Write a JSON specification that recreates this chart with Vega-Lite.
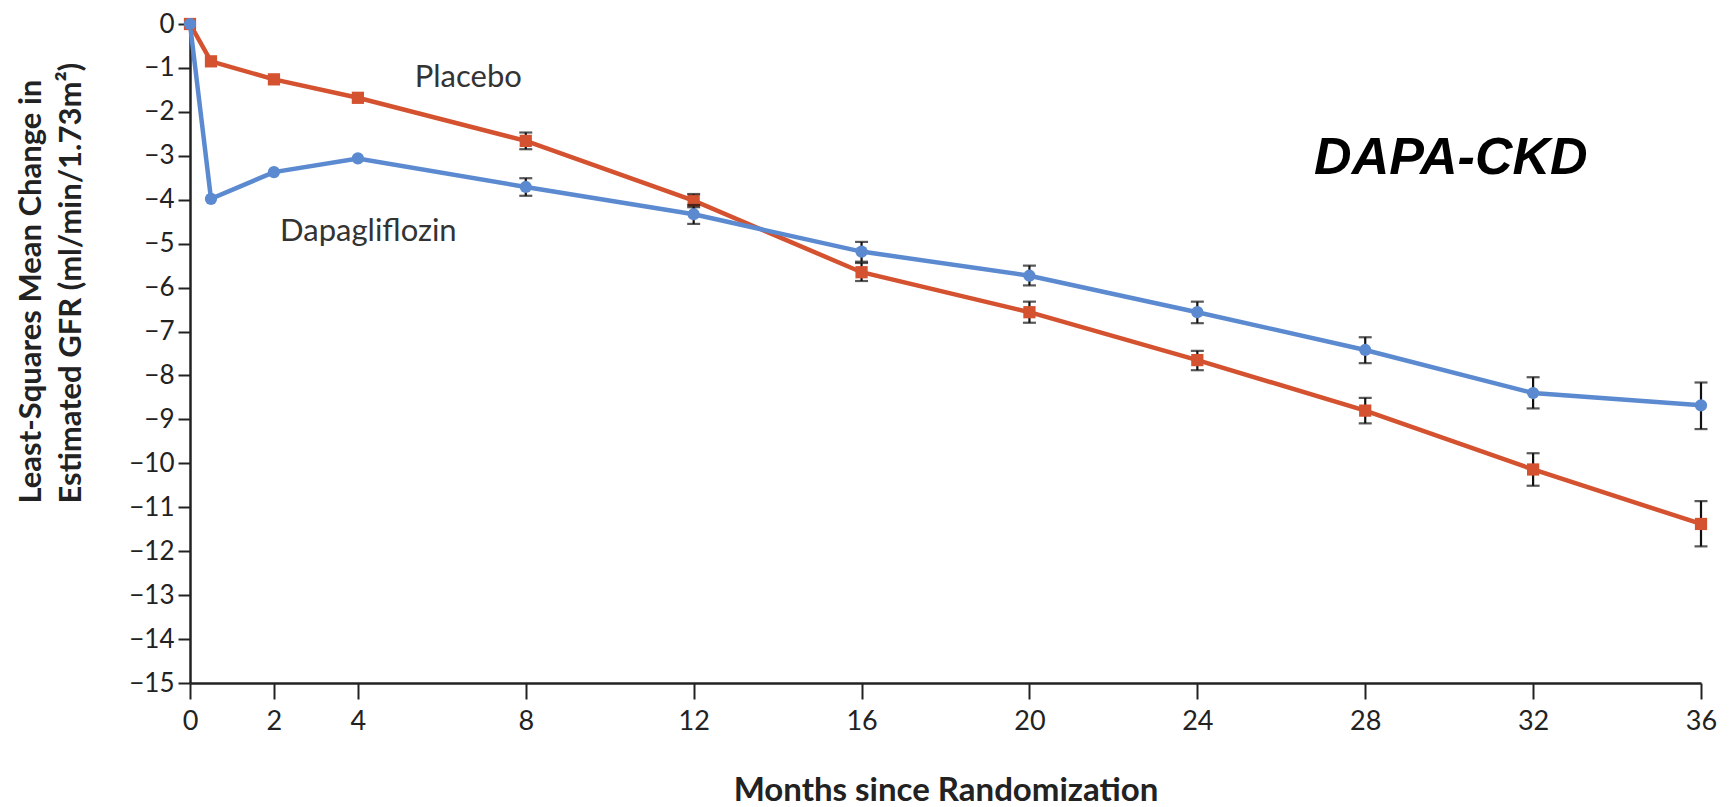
{
  "$schema": "https://vega.github.io/schema/vega-lite/v6.json",
  "width": 1511,
  "height": 659,
  "autosize": {"type": "none"},
  "padding": {"left": 190, "top": 24, "right": 32, "bottom": 124},
  "background": "white",
  "config": {
    "view": {"stroke": null},
    "font": "Lato",
    "axis": {"grid": false}
  },
  "datasets": {
    "series": [
      {"group": "Placebo", "month": 0, "value": 0, "lo": null, "hi": null},
      {"group": "Placebo", "month": 0.5, "value": -0.85, "lo": null, "hi": null},
      {"group": "Placebo", "month": 2, "value": -1.26, "lo": null, "hi": null},
      {"group": "Placebo", "month": 4, "value": -1.68, "lo": null, "hi": null},
      {"group": "Placebo", "month": 8, "value": -2.66, "lo": -2.85, "hi": -2.47},
      {"group": "Placebo", "month": 12, "value": -4.02, "lo": -4.17, "hi": -3.87},
      {"group": "Placebo", "month": 16, "value": -5.65, "lo": -5.85, "hi": -5.44},
      {"group": "Placebo", "month": 20, "value": -6.56, "lo": -6.8, "hi": -6.32},
      {"group": "Placebo", "month": 24, "value": -7.65, "lo": -7.88, "hi": -7.44},
      {"group": "Placebo", "month": 28, "value": -8.8, "lo": -9.09, "hi": -8.51},
      {"group": "Placebo", "month": 32, "value": -10.14, "lo": -10.51, "hi": -9.77},
      {"group": "Placebo", "month": 36, "value": -11.38, "lo": -11.89, "hi": -10.86},
      {"group": "Dapagliflozin", "month": 0, "value": 0, "lo": null, "hi": null},
      {"group": "Dapagliflozin", "month": 0.5, "value": -3.98, "lo": null, "hi": null},
      {"group": "Dapagliflozin", "month": 2, "value": -3.37, "lo": null, "hi": null},
      {"group": "Dapagliflozin", "month": 4, "value": -3.06, "lo": null, "hi": null},
      {"group": "Dapagliflozin", "month": 8, "value": -3.71, "lo": -3.91, "hi": -3.51},
      {"group": "Dapagliflozin", "month": 12, "value": -4.33, "lo": -4.55, "hi": -4.12},
      {"group": "Dapagliflozin", "month": 16, "value": -5.18, "lo": -5.41, "hi": -4.96},
      {"group": "Dapagliflozin", "month": 20, "value": -5.73, "lo": -5.95, "hi": -5.5},
      {"group": "Dapagliflozin", "month": 24, "value": -6.56, "lo": -6.81, "hi": -6.32},
      {"group": "Dapagliflozin", "month": 28, "value": -7.42, "lo": -7.72, "hi": -7.13},
      {"group": "Dapagliflozin", "month": 32, "value": -8.4, "lo": -8.75, "hi": -8.04},
      {"group": "Dapagliflozin", "month": 36, "value": -8.68, "lo": -9.22, "hi": -8.16}
    ],
    "labels": [
      {"month": 6.63, "value": -1.23, "text": "Placebo"},
      {"month": 4.25, "value": -4.73, "text": "Dapagliflozin"}
    ],
    "title": [
      {"month": 30.04, "value": -3.05, "text": "DAPA-CKD"}
    ]
  },
  "layer": [
    {
      "data": {"name": "series"},
      "mark": {"type": "line", "strokeWidth": 4.5},
      "encoding": {
        "x": {
          "field": "month", "type": "quantitative",
          "scale": {"domain": [0, 36], "nice": false, "zero": false},
          "axis": {
            "values": [0, 2, 4, 8, 12, 16, 20, 24, 28, 32, 36],
            "title": "Months since Randomization",
            "titleFont": "Lato", "titleFontSize": 33, "titleFontWeight": "bold", "titleColor": "#222",
            "titleY": 117, "titleBaseline": "alphabetic",
            "labelFont": "Lato", "labelFontSize": 27, "labelColor": "#222", "labelPadding": 9,
            "tickSize": 16, "tickWidth": 2, "tickColor": "#222",
            "domainColor": "#222", "domainWidth": 2.5,
            "labelFlush": false
          }
        },
        "y": {
          "field": "value", "type": "quantitative",
          "scale": {"domain": [-15, 0], "nice": false, "zero": false},
          "axis": {
            "values": [0, -1, -2, -3, -4, -5, -6, -7, -8, -9, -10, -11, -12, -13, -14, -15],
            "title": ["Least-Squares Mean Change in", "Estimated GFR (ml/min/1.73m²)"],
            "titleFont": "Lato", "titleFontSize": 31, "titleFontWeight": "bold", "titleColor": "#222",
            "titleX": -174, "titleY": 479, "titleBaseline": "top", "titleAlign": "left", "titleLineHeight": 40,
            "labelFont": "Lato", "labelFontSize": 26, "labelColor": "#222", "labelPadding": 4,
            "tickSize": 12, "tickWidth": 2, "tickColor": "#222",
            "domainColor": "#222", "domainWidth": 2.5,
            "labelFlush": false
          }
        },
        "color": {
          "field": "group", "type": "nominal",
          "scale": {"domain": ["Dapagliflozin", "Placebo"], "range": ["#5B8AD0", "#D4522F"]},
          "legend": null
        }
      }
    },
    {
      "data": {"name": "series"},
      "transform": [{"filter": "datum.lo != null"}],
      "mark": {"type": "rule", "color": "#111", "strokeWidth": 2.2},
      "encoding": {
        "x": {"field": "month", "type": "quantitative"},
        "y": {"field": "lo", "type": "quantitative"},
        "y2": {"field": "hi"}
      }
    },
    {
      "data": {"name": "series"},
      "mark": {"type": "point", "filled": true, "opacity": 1},
      "encoding": {
        "x": {"field": "month", "type": "quantitative"},
        "y": {"field": "value", "type": "quantitative"},
        "shape": {
          "field": "group", "type": "nominal",
          "scale": {"domain": ["Dapagliflozin", "Placebo"], "range": ["circle", "square"]},
          "legend": null
        },
        "color": {"field": "group", "type": "nominal", "legend": null},
        "size": {"value": 150}
      }
    },
    {
      "data": {"name": "series"},
      "transform": [{"filter": "datum.lo != null"}],
      "mark": {"type": "tick", "orient": "horizontal", "color": "#111", "size": 13, "thickness": 2.2},
      "encoding": {
        "x": {"field": "month", "type": "quantitative"},
        "y": {"field": "lo", "type": "quantitative"}
      }
    },
    {
      "data": {"name": "series"},
      "transform": [{"filter": "datum.hi != null"}],
      "mark": {"type": "tick", "orient": "horizontal", "color": "#111", "size": 13, "thickness": 2.2},
      "encoding": {
        "x": {"field": "month", "type": "quantitative"},
        "y": {"field": "hi", "type": "quantitative"}
      }
    },
    {
      "data": {"name": "labels"},
      "mark": {"type": "text", "font": "Lato", "fontSize": 31, "color": "#333", "align": "center", "baseline": "middle"},
      "encoding": {
        "x": {"field": "month", "type": "quantitative"},
        "y": {"field": "value", "type": "quantitative"},
        "text": {"field": "text"}
      }
    },
    {
      "data": {"name": "title"},
      "mark": {"type": "text", "font": "Liberation Sans", "fontSize": 52, "fontWeight": "bold", "fontStyle": "italic", "color": "#000", "align": "center", "baseline": "middle"},
      "encoding": {
        "x": {"field": "month", "type": "quantitative"},
        "y": {"field": "value", "type": "quantitative"},
        "text": {"field": "text"}
      }
    }
  ]
}
